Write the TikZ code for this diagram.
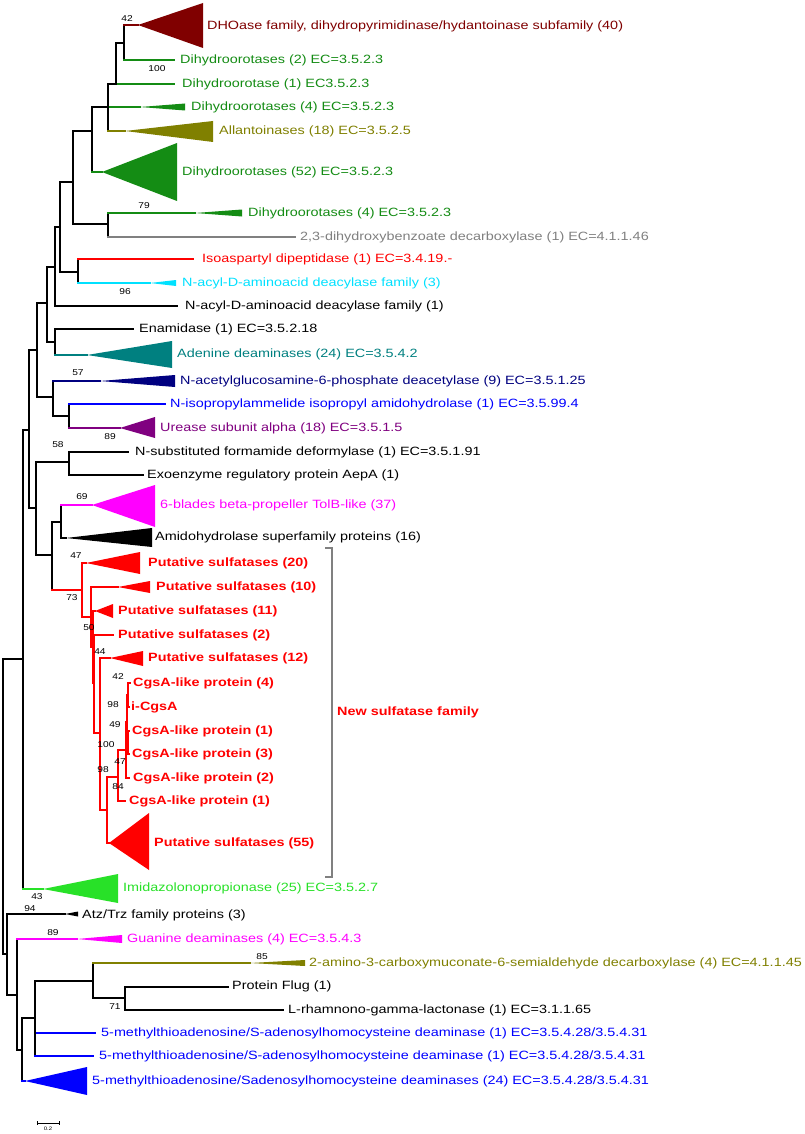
\documentclass[tikz,border=0pt]{standalone}
\usepackage{fontspec}
\setmainfont{Liberation Sans}[FakeStretch=1.2]
\newfontfamily\bsf{Liberation Sans}[FakeStretch=1.2]
\definecolor{dkred}{RGB}{128,0,0}
\definecolor{dgreen}{RGB}{20,140,20}
\definecolor{olv}{RGB}{128,128,0}
\definecolor{gry}{RGB}{128,128,128}
\definecolor{cyn}{RGB}{0,225,255}
\definecolor{tealc}{RGB}{0,128,128}
\definecolor{navyc}{RGB}{0,0,128}
\definecolor{bluec}{RGB}{0,0,255}
\definecolor{purp}{RGB}{128,0,128}
\definecolor{mag}{RGB}{255,0,255}
\definecolor{lgreen}{RGB}{40,225,40}
\definecolor{redc}{RGB}{255,0,0}
\tikzset{
  br/.style={line width=2.1pt, line cap=rect},
  lbl/.style={anchor=west, inner sep=0pt, font=\fontsize{12}{14}\selectfont},
  blbl/.style={anchor=west, inner sep=0pt, font=\fontsize{12}{14}\selectfont\bfseries, text=redc},
  bs/.style={inner sep=0pt, font=\bsf\fontsize{8.5}{10}\selectfont},
}
\newcommand\tedge[4][black]{\draw[br,#1] (#2) -- (#2|-#3); \draw[br,#4] (#2|-#3) -- (#3);}
\begin{document}
\begin{tikzpicture}[x=1pt,y=-1pt]
\useasboundingbox (0,0) rectangle (805,1134);
\fill[white] (0,0) rectangle (805,1134);

% ---------- internal nodes ----------
\coordinate (N42) at (124,43);
\coordinate (Nb) at (116,84);
\coordinate (Nc) at (108,107);
\coordinate (Ne) at (92,131);
\coordinate (Nf) at (73,182);
\coordinate (Ng) at (108,224);
\coordinate (Nh) at (60,227);
\coordinate (Ni) at (78,272);
\coordinate (Nk) at (55,267);
\coordinate (Nm) at (47,303);
\coordinate (Nen) at (55,342);
\coordinate (Nn) at (37,350);
\coordinate (No) at (53,397);
\coordinate (Np) at (69,416);
\coordinate (Nq) at (29,430);
\coordinate (Nr) at (36,508);
\coordinate (Ns) at (69,462);
\coordinate (Nt) at (52,555);
\coordinate (Nu) at (61,522);
\coordinate (S0) at (82,590);
\coordinate (S1) at (91,617);
\coordinate (S1b) at (93,647);
\coordinate (S1c) at (94,683);
\coordinate (S2) at (100,733);
\coordinate (S3) at (107,810);
\coordinate (S4) at (118,777);
\coordinate (S5) at (126,750);
\coordinate (Sx) at (127,722);
\coordinate (S6) at (128,695);
\coordinate (Sy) at (128,742);
\coordinate (Nv) at (23,659);
\coordinate (Root) at (3,806);
\coordinate (Ncc) at (7,954);
\coordinate (Nbb) at (17,995);
\coordinate (Naa) at (22,1050);
\coordinate (Nz) at (35,1018);
\coordinate (Nx) at (93,981);
\coordinate (Ny) at (125,998);

% ---------- leaf tips / apices ----------
\coordinate (aDHO) at (138,25);
\coordinate (tD2) at (174,60);
\coordinate (tD1) at (174,84);
\coordinate (aD4) at (140,107);
\coordinate (aAll) at (125,131);
\coordinate (aD52) at (102,172);
\coordinate (aD4b) at (195,213);
\coordinate (tDHB) at (295,237);
\coordinate (tIso) at (193,259);
\coordinate (aNA3) at (150,283);
\coordinate (tNA1) at (177,306);
\coordinate (tEna) at (133,329);
\coordinate (aAde) at (87,355);
\coordinate (aNgl) at (100,381);
\coordinate (tNip) at (165,404);
\coordinate (aUre) at (120,428);
\coordinate (tNsub) at (128,452);
\coordinate (tExo) at (143,475);
\coordinate (aTol) at (92,505);
\coordinate (aAmd) at (66,538);
\coordinate (aP20) at (86,563);
\coordinate (aP10) at (118,587);
\coordinate (aP11) at (95,611);
\coordinate (tP2) at (113,635);
\coordinate (aP12) at (110,658);
\coordinate (tC4) at (130,683);
\coordinate (tiC) at (129,707);
\coordinate (tC1) at (129,731);
\coordinate (tC3) at (129,754);
\coordinate (tC2) at (129,778);
\coordinate (tC1b) at (125,801);
\coordinate (aP55) at (109,843);
\coordinate (aImi) at (43,889);
\coordinate (aAtz) at (65,914);
\coordinate (aGua) at (77,939);
\coordinate (aAm) at (250,963);
\coordinate (tFlug) at (228,987);
\coordinate (tRham) at (283,1010);
\coordinate (tM1a) at (95,1033);
\coordinate (tM1b) at (93,1056);
\coordinate (aM24) at (25,1081);

% ---------- branches ----------
\tedge{N42}{aDHO}{dkred}
\tedge{N42}{tD2}{dgreen}
\tedge{Nb}{N42}{black}
\tedge{Nb}{tD1}{dgreen}
\tedge{Nc}{Nb}{black}
\tedge{Nc}{aD4}{dgreen}
\tedge{Nc}{aAll}{olv}
\tedge{Ne}{Nc}{black}
\tedge{Ne}{aD52}{dgreen}
\tedge{Nf}{Ne}{black}
\tedge{Nf}{Ng}{black}
\tedge{Ng}{aD4b}{dgreen}
\tedge{Ng}{tDHB}{gry}
\tedge{Nh}{Nf}{black}
\tedge{Nh}{Ni}{black}
\tedge{Ni}{tIso}{redc}
\tedge{Ni}{aNA3}{cyn}
\tedge{Nk}{Nh}{black}
\tedge{Nk}{tNA1}{black}
\tedge{Nm}{Nk}{black}
\tedge{Nm}{Nen}{black}
\tedge{Nen}{tEna}{black}
\tedge{Nen}{aAde}{tealc}
\tedge{Nn}{Nm}{black}
\tedge{Nn}{No}{black}
\tedge{No}{aNgl}{navyc}
\tedge{No}{Np}{black}
\tedge{Np}{tNip}{bluec}
\tedge{Np}{aUre}{purp}
\tedge{Nq}{Nn}{black}
\tedge{Nq}{Nr}{black}
\tedge{Nr}{Ns}{black}
\tedge{Nr}{Nt}{black}
\tedge{Ns}{tNsub}{black}
\tedge{Ns}{tExo}{black}
\tedge{Nt}{Nu}{black}
\tedge{Nt}{S0}{redc}
\tedge{Nu}{aTol}{mag}
\tedge{Nu}{aAmd}{black}
\tedge[redc]{S0}{aP20}{redc}
\tedge[redc]{S0}{S1}{redc}
\tedge[redc]{S1}{aP10}{redc}
\tedge[redc]{S1}{S1b}{redc}
\tedge[redc]{S1b}{aP11}{redc}
\tedge[redc]{S1b}{S1c}{redc}
\tedge[redc]{S1c}{tP2}{redc}
\tedge[redc]{S1c}{S2}{redc}
\tedge[redc]{S2}{aP12}{redc}
\tedge[redc]{S2}{S3}{redc}
\tedge[redc]{S3}{S4}{redc}
\tedge[redc]{S3}{aP55}{redc}
\tedge[redc]{S4}{S5}{redc}
\tedge[redc]{S4}{tC1b}{redc}
\tedge[redc]{S5}{Sx}{redc}
\tedge[redc]{S5}{tC2}{redc}
\tedge[redc]{Sx}{S6}{redc}
\tedge[redc]{Sx}{Sy}{redc}
\tedge[redc]{S6}{tC4}{redc}
\tedge[redc]{S6}{tiC}{redc}
\tedge[redc]{Sy}{tC1}{redc}
\tedge[redc]{Sy}{tC3}{redc}
\tedge{Nv}{Nq}{black}
\tedge{Nv}{aImi}{lgreen}
\tedge{Root}{Nv}{black}
\tedge{Root}{Ncc}{black}
\tedge{Ncc}{aAtz}{black}
\tedge{Ncc}{Nbb}{black}
\tedge{Nbb}{aGua}{mag}
\tedge{Nbb}{Naa}{black}
\tedge{Naa}{Nz}{black}
\tedge{Naa}{aM24}{bluec}
\tedge{Nz}{Nx}{black}
\tedge{Nz}{tM1a}{bluec}
\tedge{Nz}{tM1b}{bluec}
\tedge{Nx}{aAm}{olv}
\tedge{Nx}{Ny}{black}
\tedge{Ny}{tFlug}{black}
\tedge{Ny}{tRham}{black}

% ---------- collapsed clades (triangles / wedges) ----------
\fill[dkred] (aDHO) -- (203,3) -- (203,48) -- cycle;
\fill[dgreen] (aD4) -- (185,103.5) -- (185,110.5) -- cycle;
\fill[olv] (aAll) -- (213,121) -- (213,142) -- cycle;
\fill[dgreen] (aD52) -- (177,143) -- (177,201) -- cycle;
\fill[dgreen] (aD4b) -- (242,209.5) -- (242,216.5) -- cycle;
\fill[cyn] (aNA3) -- (176,280) -- (176,286) -- cycle;
\fill[tealc] (aAde) -- (172,341) -- (172,368) -- cycle;
\fill[navyc] (aNgl) -- (175,375) -- (175,387) -- cycle;
\fill[purp] (aUre) -- (155,417) -- (155,438) -- cycle;
\fill[mag] (aTol) -- (155,485) -- (155,527) -- cycle;
\fill[black] (aAmd) -- (152,528) -- (152,547) -- cycle;
\fill[redc] (aP20) -- (140,552) -- (140,574) -- cycle;
\fill[redc] (aP10) -- (150,581) -- (150,593) -- cycle;
\fill[redc] (aP11) -- (113,604) -- (113,618) -- cycle;
\fill[redc] (aP12) -- (143,651) -- (143,666) -- cycle;
\fill[redc] (aP55) -- (149,813) -- (149,870) -- cycle;
\fill[lgreen] (aImi) -- (118,874) -- (118,903) -- cycle;
\fill[black] (aAtz) -- (78,911.5) -- (78,916.5) -- cycle;
\fill[mag] (aGua) -- (122,935) -- (122,943) -- cycle;
\fill[olv] (aAm) -- (305,960) -- (305,966) -- cycle;
\fill[bluec] (aM24) -- (87,1067) -- (87,1095) -- cycle;

% ---------- leaf labels ----------
\node[lbl,text=dkred] (lDHO) at (207,26) {DHOase family, dihydropyrimidinase/hydantoinase subfamily (40)};
\node[lbl,text=dgreen] (lD2) at (180,60) {Dihydroorotases (2) EC=3.5.2.3};
\node[lbl,text=dgreen] (lD1) at (182,84) {Dihydroorotase (1) EC3.5.2.3};
\node[lbl,text=dgreen] (lD4) at (191,107) {Dihydroorotases (4) EC=3.5.2.3};
\node[lbl,text=olv] (lAll) at (219,131) {Allantoinases (18) EC=3.5.2.5};
\node[lbl,text=dgreen] (lD52) at (182,172) {Dihydroorotases (52) EC=3.5.2.3};
\node[lbl,text=dgreen] (lD4b) at (248,213) {Dihydroorotases (4) EC=3.5.2.3};
\node[lbl,text=gry] (lDHB) at (300,237) {2,3-dihydroxybenzoate decarboxylase (1) EC=4.1.1.46};
\node[lbl,text=redc] (lIso) at (202,259) {Isoaspartyl dipeptidase (1) EC=3.4.19.-};
\node[lbl,text=cyn] (lNA3) at (182,283) {N-acyl-D-aminoacid deacylase family (3)};
\node[lbl] (lNA1) at (185,306) {N-acyl-D-aminoacid deacylase family (1)};
\node[lbl] (lEna) at (139,329) {Enamidase (1) EC=3.5.2.18};
\node[lbl,text=tealc] (lAde) at (177,354) {Adenine deaminases (24) EC=3.5.4.2};
\node[lbl,text=navyc] (lNgl) at (180,381) {N-acetylglucosamine-6-phosphate deacetylase (9) EC=3.5.1.25};
\node[lbl,text=bluec] (lNip) at (170,404) {N-isopropylammelide isopropyl amidohydrolase (1) EC=3.5.99.4};
\node[lbl,text=purp] (lUre) at (160,428) {Urease subunit alpha (18) EC=3.5.1.5};
\node[lbl] (lNsub) at (135,452) {N-substituted formamide deformylase (1) EC=3.5.1.91};
\node[lbl] (lExo) at (147,475) {Exoenzyme regulatory protein AepA (1)};
\node[lbl,text=mag] (lTol) at (160,505) {6-blades beta-propeller TolB-like (37)};
\node[lbl] (lAmd) at (155,537) {Amidohydrolase superfamily proteins (16)};
\node[blbl] (lP20) at (148,563) {Putative sulfatases (20)};
\node[blbl] (lP10) at (156,587) {Putative sulfatases (10)};
\node[blbl] (lP11) at (118,611) {Putative sulfatases (11)};
\node[blbl] (lP2) at (118,635) {Putative sulfatases (2)};
\node[blbl] (lP12) at (148,658) {Putative sulfatases (12)};
\node[blbl] (lC4) at (133,683) {CgsA-like protein (4)};
\node[blbl] (liC) at (131,707) {i-CgsA};
\node[blbl] (lC1) at (132,731) {CgsA-like protein (1)};
\node[blbl] (lC3) at (132,754) {CgsA-like protein (3)};
\node[blbl] (lC2) at (133,778) {CgsA-like protein (2)};
\node[blbl] (lC1b) at (129,801) {CgsA-like protein (1)};
\node[blbl] (lP55) at (154,843) {Putative sulfatases (55)};
\node[lbl,text=lgreen] (lImi) at (123,888) {Imidazolonopropionase (25) EC=3.5.2.7};
\node[lbl] (lAtz) at (82,915) {Atz/Trz family proteins (3)};
\node[lbl,text=mag] (lGua) at (127,939) {Guanine deaminases (4) EC=3.5.4.3};
\node[lbl,text=olv] (lAm) at (309,963) {2-amino-3-carboxymuconate-6-semialdehyde decarboxylase (4) EC=4.1.1.45};
\node[lbl] (lFlug) at (232,986) {Protein Flug (1)};
\node[lbl] (lRham) at (288,1010) {L-rhamnono-gamma-lactonase (1) EC=3.1.1.65};
\node[lbl,text=bluec] (lM1a) at (101,1033) {5-methylthioadenosine/S-adenosylhomocysteine deaminase (1) EC=3.5.4.28/3.5.4.31};
\node[lbl,text=bluec] (lM1b) at (99,1056) {5-methylthioadenosine/S-adenosylhomocysteine deaminase (1) EC=3.5.4.28/3.5.4.31};
\node[lbl,text=bluec] (lM24) at (92,1081) {5-methylthioadenosine/Sadenosylhomocysteine deaminases (24) EC=3.5.4.28/3.5.4.31};

% ---------- bootstrap values ----------
\node[bs] (b42a) at (127,19) {42};
\node[bs] (b100a) at (157,69) {100};
\node[bs] (b79) at (144,206) {79};
\node[bs] (b96) at (125,292) {96};
\node[bs] (b57) at (78,373) {57};
\node[bs] (b89a) at (110,437) {89};
\node[bs] (b58) at (58,445) {58};
\node[bs] (b69) at (82,497) {69};
\node[bs] (b47a) at (76,556) {47};
\node[bs] (b73) at (72,598) {73};
\node[bs] (b50) at (89,628) {50};
\node[bs] (b44) at (100,652) {44};
\node[bs] (b42b) at (118,677) {42};
\node[bs] (b98a) at (113,705) {98};
\node[bs] (b49) at (115,725) {49};
\node[bs] (b100b) at (106,745) {100};
\node[bs] (b47b) at (120,762) {47};
\node[bs] (b98b) at (103,770) {98};
\node[bs] (b84) at (118,787) {84};
\node[bs] (b43) at (37,897) {43};
\node[bs] (b94) at (30,909) {94};
\node[bs] (b89b) at (53,933) {89};
\node[bs] (b85) at (262,957) {85};
\node[bs] (b71) at (115,1007) {71};

% ---------- bracket ----------
\coordinate (brT) at (325,548);
\coordinate (brB) at (325,877);
\draw[gry, line width=1.4pt] (brT) -- ++(7,0) |- (brB);
\node[blbl] (lNew) at (337,712) {New sulfatase family};

% ---------- scale bar ----------
\coordinate (sb1) at (37,1123);
\coordinate (sb2) at (59,1123);
\draw[line width=0.7pt] (sb1) -- (sb2);
\draw[line width=0.7pt] (sb1) ++(0,-2) -- ++(0,4);
\draw[line width=0.7pt] (sb2) ++(0,-2) -- ++(0,4);
\node[inner sep=0pt, font=\bsf\fontsize{5}{6}\selectfont] (sbl) at (48,1129) {0.2};
\end{tikzpicture}
\end{document}
